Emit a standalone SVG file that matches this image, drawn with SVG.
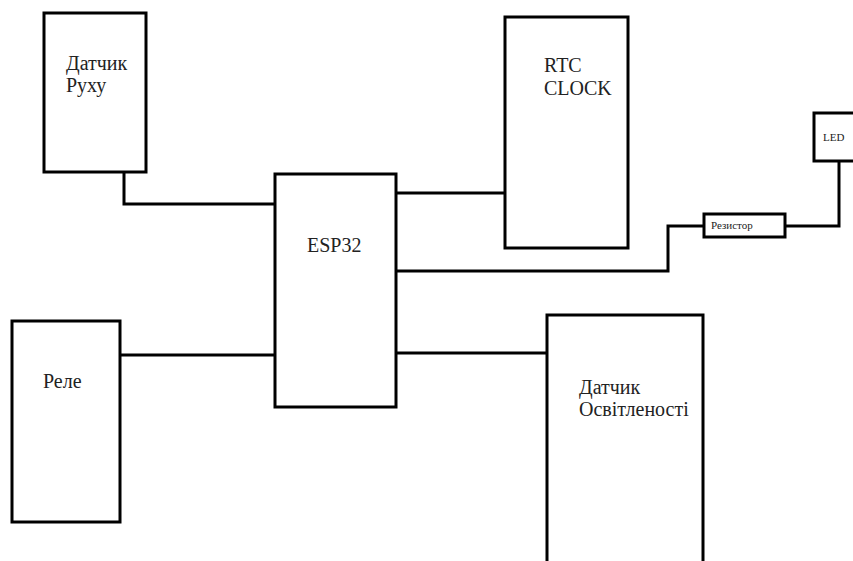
<svg xmlns="http://www.w3.org/2000/svg" width="853" height="561" viewBox="0 0 853 561">
<style>
.box{fill:#fff;stroke:#000;stroke-width:3}
.w{fill:none;stroke:#000;stroke-width:3}
.t{font-family:"Liberation Serif","Times New Roman",serif;font-size:20px;fill:#222}
.s{font-family:"Liberation Serif","Times New Roman",serif;font-size:11px;fill:#222}
</style>
<rect width="853" height="561" fill="#fff"/>
<g id="connectors">
<polyline class="w" points="124,172 124,204 276,204"/>
<line class="w" x1="120" y1="355" x2="276" y2="355"/>
<line class="w" x1="396" y1="193" x2="505" y2="193"/>
<polyline class="w" points="396,271 668,271 668,226 704,226"/>
<polyline class="w" points="785,226 839,226 839,161"/>
<line class="w" x1="396" y1="353" x2="547" y2="353"/>
</g>
<g id="ruhu">
<rect class="box" x="44" y="13" width="102" height="159"/>
<text class="t" x="66" y="70">Датчик</text>
<text class="t" x="66" y="92">Руху</text>
</g>
<g id="esp32">
<rect class="box" x="275" y="174" width="121" height="233"/>
<text class="t" x="307" y="252">ESP32</text>
</g>
<g id="rtc">
<rect class="box" x="505" y="17" width="123" height="231"/>
<text class="t" x="544" y="72">RTC</text>
<text class="t" x="544" y="95">CLOCK</text>
</g>
<g id="led">
<rect class="box" x="814" y="113" width="50" height="48"/>
<text class="s" x="823" y="141" font-size="12">LED</text>
</g>
<g id="resistor">
<rect class="box" x="704" y="214" width="81" height="23"/>
<text class="s" x="711" y="229">Резистор</text>
</g>
<g id="rele">
<rect class="box" x="12" y="321" width="108" height="201"/>
<text class="t" x="43" y="388">Реле</text>
</g>
<g id="osvit">
<rect class="box" x="547" y="315" width="156" height="260"/>
<text class="t" x="579" y="394">Датчик</text>
<text class="t" x="579" y="416">Освітленості</text>
</g>
</svg>
